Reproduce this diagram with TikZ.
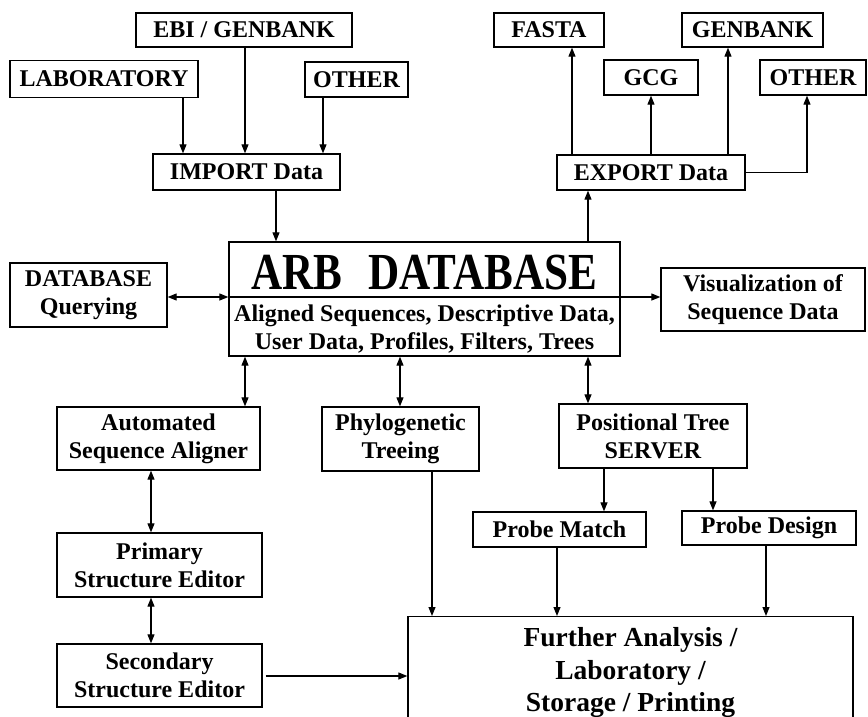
\documentclass[tikz,border=0pt]{standalone}
\usepackage{fontspec}
\setmainfont{Liberation Serif}
\usetikzlibrary{arrows.meta}

\begin{document}
\begin{tikzpicture}[x=1pt,y=-1pt,
  font=\bfseries\fontsize{24}{28}\selectfont,
  box/.style={draw,line width=1.3pt,align=center,inner sep=0pt},
  arr/.style={-{Triangle[length=9pt,width=7pt]},line width=1.1pt},
  darr/.style={{Triangle[length=9pt,width=7pt]}-{Triangle[length=9pt,width=7pt]},line width=1.1pt}]
\useasboundingbox (0,0) rectangle (868,716);
% import sources
\node[box,minimum width=216pt,minimum height=34pt] (ebi) at (244,30) {EBI / GENBANK};
\node[box,minimum width=188pt,minimum height=37pt] (lab) at (104,79) {LABORATORY};
\node[box,minimum width=103pt,minimum height=35pt] (othin) at (356.5,79.5) {OTHER};
\node[box,minimum width=187pt,minimum height=36pt] (imp) at (246.5,172) {IMPORT Data};
% export targets
\node[box,minimum width=110pt,minimum height=34pt] (fasta) at (549,30) {FASTA};
\node[box,minimum width=141pt,minimum height=34pt] (genbank) at (752.5,30) {GENBANK};
\node[box,minimum width=94pt,minimum height=35pt] (gcg) at (651,77.5) {GCG};
\node[box,minimum width=106pt,minimum height=35pt] (othout) at (813,77.5) {OTHER};
\node[box,minimum width=188pt,minimum height=35pt] (exp) at (651,172.5) {EXPORT Data};
% database row
\node[box,minimum width=391pt,minimum height=114pt] (arb) at (424.5,299)
  {\rule{0pt}{45pt}\scalebox{0.83}[1]{\fontsize{52}{52}\selectfont ARB\hspace{0.6em}DATABASE}\\[4pt]
   Aligned Sequences, Descriptive Data,\\
   User Data, Profiles, Filters, Trees};
\node[box,minimum width=157pt,minimum height=64pt] (query) at (88.5,295) {DATABASE\\Querying};
\node[box,minimum width=204pt,minimum height=63pt] (viz) at (763,299.5) {Visualization of\\Sequence Data};
% tools
\node[box,minimum width=203pt,minimum height=63pt] (aligner) at (158.5,438.5) {Automated\\Sequence Aligner};
\node[box,minimum width=157pt,minimum height=64pt] (phylo) at (400.5,439) {Phylogenetic\\Treeing};
\node[box,minimum width=188pt,minimum height=64pt] (pts) at (653,436) {Positional Tree\\SERVER};
\node[box,minimum width=205pt,minimum height=64pt] (primary) at (159.5,565) {Primary\\Structure Editor};
\node[box,minimum width=205pt,minimum height=63pt] (secondary) at (159.5,675.5) {Secondary\\Structure Editor};
\node[box,minimum width=173pt,minimum height=35pt] (pmatch) at (559.5,529.5) {Probe Match};
\node[box,minimum width=174pt,minimum height=34pt] (pdesign) at (769,528) {Probe Design};
\node[box,anchor=north,minimum width=445pt,inner ysep=11pt,
      font=\bfseries\fontsize{27.5}{32.5}\selectfont] (further) at (630.5,616)
  {Further Analysis /\\Laboratory /\\Storage / Printing};
% connectors
\draw[arr] (lab.south -| 183,0) -- (imp.north -| 183,0);
\draw[arr] (ebi.south -| 245,0) -- (imp.north -| 245,0);
\draw[arr] (othin.south -| 323,0) -- (imp.north -| 323,0);
\draw[arr] (imp.south -| 276,0) -- (arb.north -| 276,0);
\draw[arr] (arb.north -| 588,0) -- (exp.south -| 588,0);
\draw[arr] (exp.north -| 572,0) -- (fasta.south -| 572,0);
\draw[arr] (exp.north) -- (gcg.south);
\draw[arr] (exp.north -| 728,0) -- (genbank.south -| 728,0);
\draw[arr] (exp.east) -| ([xshift=-6pt]othout.south);
\draw[darr] (query.east |- 0,297) -- (arb.west |- 0,297);
\draw[arr] (arb.west |- 0,297) -- (viz.west |- 0,297);
\draw[darr] (arb.south -| 245,0) -- (aligner.north -| 245,0);
\draw[darr] (arb.south -| 400,0) -- (phylo.north -| 400,0);
\draw[darr] (arb.south -| 588,0) -- (pts.north -| 588,0);
\draw[darr] (aligner.south -| 151,0) -- (primary.north -| 151,0);
\draw[darr] (primary.south -| 151,0) -- (secondary.north -| 151,0);
\draw[arr] ([xshift=3pt]secondary.east |- 0,676) -- (further.west |- 0,676);
\draw[arr] (phylo.south -| 432,0) -- (further.north -| 432,0);
\draw[arr] (pts.south -| 604,0) -- (pmatch.north -| 604,0);
\draw[arr] (pts.south -| 713,0) -- (pdesign.north -| 713,0);
\draw[arr] (pmatch.south -| 557,0) -- (further.north -| 557,0);
\draw[arr] (pdesign.south -| 766,0) -- (further.north -| 766,0);
\end{tikzpicture}
\end{document}
